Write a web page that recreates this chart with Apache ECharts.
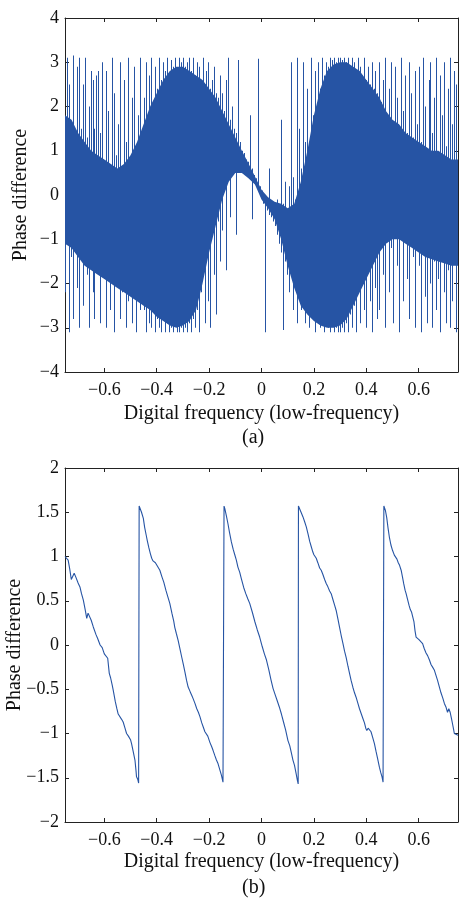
<!DOCTYPE html>
<html>
<head>
<meta charset="utf-8">
<script src="https://cdn.jsdelivr.net/npm/echarts@6/dist/echarts.min.js"></script>
<style>
html,body{margin:0;padding:0;background:#fff;}
#chart{width:459px;height:898px;}
</style>
</head>
<body>
<div id="chart"></div>
<script>
// ---------- shared ticks ----------
const xTicks = [-0.6, -0.4, -0.2, 0, 0.2, 0.4, 0.6];
const xName = 'Digital frequency (low-frequency)';
const yName = 'Phase difference';
const panelLabels = ['(a)', '(b)'];

// ---------- (a) noisy phase difference ----------
// per frequency column (uniform grid): highest and lowest sample
const topFreqStart = -0.75;
const topColStep = 0.0075;
const topColMax = [
  1.4, 3.1, 2.5, 1.6, 3.15,1.2, 2.9, 3.1, 1.5, 2.5, 3.1, 1.3, 2.0, 2.8, 2.6, 1.5, 2.7, 2.8, 1.4, 3.0,
  0.7, 2.8, 1.9, 0.6, 3.1, 2.3, 0.9, 1.6, 3.0, 0.5, 2.6, 1.2, 3.1, 0.8, 2.2, 2.9, 1.0, 1.8, 3.1, 1.3,
  2.2, 3.0, 1.6, 2.7, 3.1, 2.0, 2.9, 2.4, 3.1, 2.6, 3.0, 2.8, 3.1, 2.5, 3.05,2.9, 3.1, 2.7, 3.1, 3.0,
  3.1, 2.9, 3.0, 3.1, 2.8, 3.1, 2.7, 3.0, 2.9, 2.6, 3.1, 2.5, 2.8, 3.0, 2.4, 2.6, 2.9, 2.3, 2.2, 2.7,
  2.3, 1.9, 2.6, 3.1, 1.7, 2.0, 1.5, 1.4, 3.05,1.2, 1.0, 0.95,0.8, 0.75,1.8, 0.6, 0.45,0.38,3.08,0.2,
  0.1, 0.0,-0.05,-0.1, 0.6,-0.15,-0.2,-0.25,-0.1,-0.3, 1.7,-0.2, 0.3,-0.4, 0.2, 3.0, 0.4,-0.1, 3.1, 1.5,
  0.6, 3.0, 1.2, 2.4, 0.9, 3.1, 1.8, 2.8, 1.6, 3.0, 2.4, 3.1, 2.7, 3.0, 2.9, 3.1, 3.05,3.1, 3.0, 3.1,
  3.1, 3.05,3.1, 3.0, 3.1, 2.9, 3.1, 3.0, 2.8, 3.1, 2.9, 2.7, 3.1, 2.6, 2.9, 2.5, 3.0, 2.4, 2.8, 2.3,
  3.0, 2.1, 2.6, 3.1, 1.8, 2.4, 3.0, 1.6, 2.9, 2.2, 1.5, 3.1, 1.9, 2.7, 1.4, 3.0, 2.3, 1.3, 2.8, 1.6,
  2.9, 1.2, 3.1, 2.0, 1.0, 2.6, 3.0, 1.4, 2.2, 3.1, 0.9, 2.7, 1.8, 3.0, 1.1, 2.4, 3.1, 1.6, 2.8, 2.5,
  1.2
];
const topColMin = [
 -2.2,-1.0,-3.1,-1.4,-2.8,-0.9,-2.1,-3.0,-1.2,-2.5,-1.6,-1.8,-3.0,-1.1,-2.2,-2.8,-1.3,-1.6,-2.9,-1.0,
 -1.9,-3.0,-1.3,-2.6,-1.5,-3.1,-2.0,-1.4,-2.8,-2.2,-1.6,-3.0,-2.4,-1.7,-2.9,-2.0,-3.1,-1.9,-2.6,-2.3,
 -2.6,-3.1,-2.3,-2.9,-3.0,-2.5,-3.1,-2.8,-3.0,-3.1,-2.7,-3.1,-2.9,-3.1,-3.0,-3.1,-2.9,-3.1,-3.1,-3.0,
 -3.1,-3.0,-3.1,-2.9,-3.1,-2.8,-3.0,-2.6,-3.1,-2.2,-1.5,-2.9,-1.2,-2.4,-3.0,-0.9,-1.8,-2.7,-0.6,-1.5,
 -0.8, 0.3,-1.7, 0.4,-0.5, 0.6, 0.5,-0.9, 0.55,0.6, 0.55,0.55,0.5, 0.45,0.38,-0.55,0.28,0.2, 0.12,0.04,
 -0.1,-0.2,-3.1,-0.35,-0.45,-0.5,-0.6,-0.7,-0.9,-1.1,-1.3,-3.05,-1.5,-1.8,-2.2,-1.6,-2.6,-2.0,-2.9,-2.3,
 -2.6,-1.9,-2.9,-2.3,-3.0,-2.5,-2.8,-3.1,-2.6,-2.9,-3.0,-2.8,-3.1,-2.9,-3.0,-3.1,-2.9,-3.1,-3.0,-3.1,
 -3.1,-3.0,-3.1,-2.9,-3.1,-2.7,-3.0,-2.5,-3.1,-2.2,-2.9,-1.9,-2.6,-3.0,-1.6,-2.4,-3.1,-1.5,-2.1,-2.8,
 -2.6,-0.9,-1.8,-3.0,-0.8,-2.2,-1.2,-2.9,-0.7,-1.6,-3.1,-1.0,-2.4,-0.6,-1.9,-2.8,-0.9,-1.4,-3.0,-1.1,
 -1.6,-3.1,-1.3,-2.3,-2.9,-1.2,-2.0,-3.0,-1.5,-2.6,-1.9,-3.1,-1.4,-2.2,-2.9,-1.7,-3.0,-2.4,-1.5,-3.1,
 -1.0
];
// dense core of panel (a): upper / lower edge
const coreFreq = [-0.75,-0.725,-0.70,-0.675,-0.65,-0.625,-0.60,-0.575,-0.55,-0.525,-0.50,-0.475,-0.45,-0.425,-0.40,-0.375,-0.35,-0.325,-0.30,-0.275,-0.25,-0.225,-0.20,-0.175,-0.15,-0.125,-0.10,-0.075,-0.05,-0.025,0,0.025,0.05,0.075,0.10,0.125,0.15,0.175,0.20,0.225,0.25,0.275,0.30,0.325,0.35,0.375,0.40,0.425,0.45,0.475,0.50,0.525,0.55,0.575,0.60,0.625,0.65,0.675,0.70,0.725,0.75];
const coreUpper = [1.8,1.7,1.4,1.2,1.0,0.9,0.8,0.7,0.6,0.7,0.9,1.2,1.6,2.0,2.3,2.6,2.8,2.9,2.9,2.8,2.7,2.6,2.4,2.2,1.9,1.6,1.3,1.0,0.72,0.42,0.12,-0.05,-0.15,-0.2,-0.3,-0.2,0.3,1.0,1.8,2.4,2.8,2.95,3.0,3.0,2.9,2.8,2.6,2.4,2.2,1.9,1.7,1.6,1.4,1.3,1.2,1.1,1.0,1.0,0.9,0.8,0.8];
const coreLower = [-1.1,-1.2,-1.4,-1.6,-1.7,-1.8,-1.9,-2.0,-2.1,-2.2,-2.3,-2.4,-2.5,-2.6,-2.75,-2.85,-2.95,-3.0,-2.95,-2.85,-2.6,-2.0,-1.3,-0.7,-0.1,0.3,0.5,0.5,0.38,0.24,-0.1,-0.3,-0.55,-1.0,-1.6,-2.1,-2.5,-2.7,-2.85,-2.95,-3.0,-3.0,-2.95,-2.8,-2.5,-2.2,-1.9,-1.6,-1.3,-1.1,-1.0,-1.0,-1.1,-1.2,-1.3,-1.4,-1.45,-1.5,-1.55,-1.6,-1.6];

// ---------- (b) wrapped phase difference ----------
const botFreq = [
  -0.750,-0.744,-0.738,-0.732,-0.726,-0.720,-0.715,-0.709,-0.700,-0.693,-0.687,-0.680,-0.673,-0.667,-0.662,-0.657,-0.650,-0.642,-0.632,-0.625,-0.616,-0.608,-0.600,-0.593,-0.587,-0.581,-0.576,-0.570,-0.566,-0.558,-0.552,-0.547,-0.540,-0.534,-0.528,-0.521,-0.515,-0.508,-0.500,-0.496,-0.490,-0.483,-0.479,-0.477,-0.472,-0.469,-0.467,
  -0.467,-0.464,-0.458,-0.451,-0.446,-0.440,-0.436,-0.430,-0.424,-0.419,-0.414,-0.410,-0.405,-0.397,-0.388,-0.380,-0.373,-0.365,-0.358,-0.350,-0.342,-0.335,-0.331,-0.325,-0.318,-0.310,-0.305,-0.299,-0.292,-0.286,-0.280,-0.272,-0.266,-0.261,-0.254,-0.247,-0.241,-0.235,-0.228,-0.222,-0.216,-0.211,-0.205,-0.197,-0.190,-0.185,-0.178,-0.172,-0.166,-0.159,-0.153,-0.147,-0.143,
  -0.143,-0.140,-0.134,-0.128,-0.122,-0.115,-0.108,-0.102,-0.096,-0.090,-0.083,-0.077,-0.068,-0.060,-0.052,-0.045,-0.035,-0.025,-0.016,-0.007,0.003,0.011,0.019,0.028,0.036,0.044,0.052,0.060,0.068,0.076,0.084,0.092,0.101,0.108,0.114,0.120,0.126,0.132,0.137,0.140,
  0.141,0.145,0.151,0.158,0.165,0.171,0.178,0.184,0.190,0.196,0.200,0.204,0.209,0.215,0.222,0.228,0.234,0.241,0.247,0.253,0.260,0.266,0.272,0.279,0.285,0.292,0.298,0.304,0.311,0.317,0.323,0.330,0.336,0.342,0.349,0.355,0.361,0.368,0.374,0.381,0.387,0.393,0.398,0.402,0.407,0.412,0.418,0.424,0.431,0.437,0.443,0.450,0.455,0.460,0.464,0.466,
  0.467,0.469,0.473,0.478,0.483,0.488,0.494,0.500,0.507,0.512,0.517,0.522,0.527,0.533,0.538,0.543,0.548,0.552,0.557,0.563,0.568,0.573,0.577,0.582,0.586,0.590,0.596,0.601,0.608,0.615,0.621,0.628,0.634,0.641,0.647,0.653,0.660,0.666,0.672,0.679,0.685,0.692,0.698,0.704,0.710,0.715,0.720,0.725,0.729,0.733,0.736,0.742,0.750
];
const botPhase = [
  1.00,1.015,0.96,0.86,0.74,0.75,0.81,0.77,0.70,0.656,0.58,0.506,0.40,0.30,0.36,0.355,0.28,0.204,0.12,0.07,0.00,-0.03,-0.10,-0.09,-0.15,-0.32,-0.37,-0.45,-0.51,-0.64,-0.72,-0.78,-0.80,-0.84,-0.87,-0.94,-1.00,-1.03,-1.07,-1.115,-1.20,-1.30,-1.42,-1.49,-1.52,-1.56,-1.57,
  1.57,1.56,1.50,1.43,1.33,1.24,1.18,1.10,1.03,0.98,0.95,0.97,0.93,0.89,0.845,0.77,0.71,0.62,0.55,0.47,0.36,0.27,0.20,0.13,0.05,-0.06,-0.13,-0.21,-0.31,-0.40,-0.475,-0.53,-0.57,-0.606,-0.66,-0.72,-0.76,-0.81,-0.88,-0.93,-0.98,-0.96,-1.03,-1.10,-1.15,-1.19,-1.25,-1.30,-1.34,-1.41,-1.47,-1.55,-1.57,
  1.57,1.54,1.46,1.37,1.27,1.165,1.08,1.02,0.96,0.88,0.82,0.75,0.65,0.58,0.52,0.47,0.37,0.26,0.17,0.09,-0.02,-0.10,-0.17,-0.28,-0.39,-0.49,-0.56,-0.63,-0.70,-0.78,-0.87,-0.96,-1.08,-1.14,-1.22,-1.30,-1.36,-1.45,-1.53,-1.57,
  1.57,1.55,1.50,1.45,1.39,1.335,1.25,1.17,1.11,1.05,1.02,1.00,0.98,0.93,0.87,0.845,0.80,0.74,0.695,0.66,0.61,0.58,0.52,0.45,0.39,0.29,0.20,0.11,0.016,-0.07,-0.14,-0.24,-0.32,-0.40,-0.48,-0.54,-0.59,-0.66,-0.72,-0.78,-0.83,-0.88,-0.94,-0.965,-0.94,-0.93,-0.98,-1.04,-1.115,-1.20,-1.28,-1.38,-1.44,-1.49,-1.55,-1.57,
  1.57,1.57,1.52,1.44,1.32,1.22,1.13,1.07,1.015,1.02,0.97,0.93,0.90,0.845,0.77,0.69,0.62,0.58,0.52,0.45,0.40,0.37,0.355,0.26,0.16,0.09,0.07,0.06,0.04,0.016,-0.04,-0.09,-0.12,-0.17,-0.22,-0.25,-0.286,-0.28,-0.40,-0.475,-0.54,-0.60,-0.66,-0.70,-0.76,-0.72,-0.76,-0.83,-0.89,-0.95,-1.00,-1.01,-1.02
];
const topYTicks = { min: -4, max: 4, interval: 1 };
const botYTicks = { min: -2, max: 2, interval: 0.5 };

// ---------- build ----------
const LINE = '#2654a4';
const INK = '#222';
const FONT = '"Liberation Serif", "Times New Roman", serif';
const fmt = v => String(v).replace('-', '\u2212');

const topCols = topColMax.map((v, k) => [topFreqStart + k * topColStep, topColMin[k], v]);
const botData = botPhase.map((v, i) => [botFreq[i], v]);

const gridTops = [18, 468];
const grids = gridTops.map(t => ({ left: 65, top: t, width: 393, height: 354, containLabel: false, outerBoundsMode: 'none' }));

function xAxes(g) {
  return [
    {
      type: 'value', gridIndex: g, position: 'bottom', min: -0.75, max: 0.75,
      axisLine: { show: true, onZero: false, lineStyle: { color: INK, width: 1 } },
      axisTick: { show: true, inside: true, length: 4, customValues: xTicks, lineStyle: { color: INK } },
      axisLabel: { show: true, customValues: xTicks, formatter: fmt, fontSize: 18, color: '#111', fontFamily: FONT, margin: 9 },
      splitLine: { show: false },
      name: xName, nameLocation: 'middle', nameGap: g === 0 ? 32 : 30, nameMoveOverlap: false,
      nameTextStyle: { fontSize: 20, color: '#111', fontFamily: FONT }
    },
    {
      type: 'value', gridIndex: g, position: 'top', min: -0.75, max: 0.75,
      axisLine: { show: true, onZero: false, lineStyle: { color: INK, width: 1 } },
      axisTick: { show: true, inside: true, length: 4, customValues: xTicks, lineStyle: { color: INK } },
      axisLabel: { show: false }, splitLine: { show: false }
    }
  ];
}
function yAxes(g, t, gap) {
  return [
    {
      type: 'value', gridIndex: g, position: 'left', min: t.min, max: t.max, interval: t.interval,
      axisLine: { show: true, onZero: false, lineStyle: { color: INK, width: 1 } },
      axisTick: { show: true, inside: true, length: 4, lineStyle: { color: INK } },
      axisLabel: { show: true, formatter: fmt, fontSize: 18, color: '#111', fontFamily: FONT, margin: 6 },
      splitLine: { show: false },
      name: yName, nameLocation: 'middle', nameGap: gap, nameRotate: 90, nameMoveOverlap: false,
      nameTextStyle: { fontSize: 20, color: '#111', fontFamily: FONT }
    },
    {
      type: 'value', gridIndex: g, position: 'right', min: t.min, max: t.max, interval: t.interval,
      axisLine: { show: true, onZero: false, lineStyle: { color: INK, width: 1 } },
      axisTick: { show: true, inside: true, length: 4, lineStyle: { color: INK } },
      axisLabel: { show: false }, splitLine: { show: false }
    }
  ];
}

const chart = echarts.init(document.getElementById('chart'), null, { renderer: 'canvas' });
chart.setOption({
  animation: false,
  backgroundColor: '#fff',
  grid: grids,
  xAxis: [...xAxes(0), ...xAxes(1)],
  yAxis: [...yAxes(0, topYTicks, 34), ...yAxes(1, botYTicks, 40)],
  graphic: [
    { type: 'text', left: 242, top: 428, style: { text: panelLabels[0], fontSize: 20, fill: '#111', fontFamily: FONT } },
    { type: 'text', left: 242, top: 878, style: { text: panelLabels[1], fontSize: 20, fill: '#111', fontFamily: FONT } }
  ],
  series: [
    {
      type: 'custom', xAxisIndex: 0, yAxisIndex: 0, silent: true, clip: true,
      data: [[0, 0]],
      renderItem: function (params, api) {
        const pts = [];
        for (let i = 0; i < coreFreq.length; i++) pts.push(api.coord([coreFreq[i], coreUpper[i]]));
        for (let i = coreFreq.length - 1; i >= 0; i--) pts.push(api.coord([coreFreq[i], coreLower[i]]));
        return { type: 'polygon', shape: { points: pts }, style: { fill: LINE } };
      }
    },
    {
      type: 'custom', xAxisIndex: 0, yAxisIndex: 0, silent: true, clip: true,
      data: topCols,
      renderItem: function (params, api) {
        const top = api.coord([api.value(0), api.value(2)]);
        const bot = api.coord([api.value(0), api.value(1)]);
        return { type: 'rect', shape: { x: Math.round(top[0]), y: top[1], width: 1, height: bot[1] - top[1] }, style: { fill: LINE } };
      }
    },
    {
      type: 'line', xAxisIndex: 2, yAxisIndex: 2, data: botData, showSymbol: false,
      lineStyle: { color: LINE, width: 1.1 }, silent: true
    }
  ]
});
</script>
</body>
</html>
